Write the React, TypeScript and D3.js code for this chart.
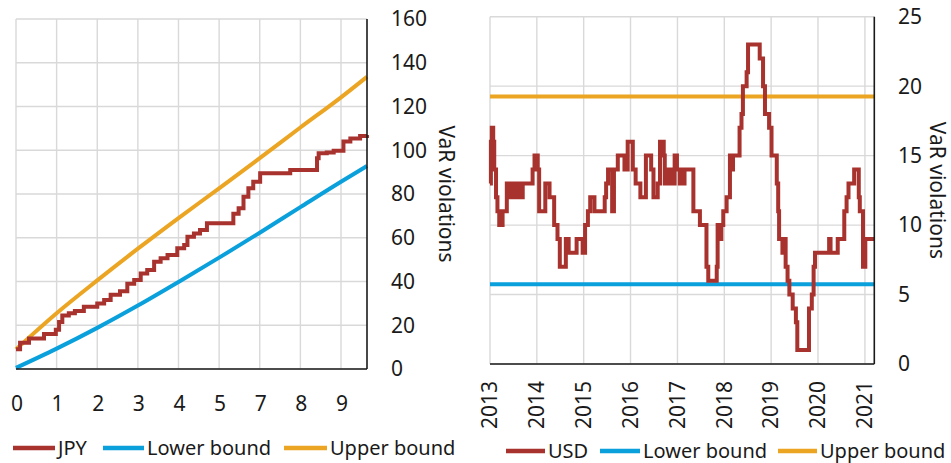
import { useEffect, useRef } from 'react';
import * as d3 from 'd3';

const RED = '#A8322D';
const BLUE = '#0AA0DC';
const ORANGE = '#EBA522';
const GRID = '#D9D9D9';
const AXIS = '#1a1a1a';
const FONT = '"Noto Sans", "Open Sans", sans-serif';

// ---- left panel (JPY) ----
const jpyTickLabels = ['0', '1', '2', '3', '4', '5', '7', '8', '9'];
const jpyYTicks = [0, 20, 40, 60, 80, 100, 120, 140, 160];
const jpyBoundPos = [0, 1, 2, 3, 4, 5, 6, 7, 8, 8.64];
const jpyUpper = [9, 25.5, 40.5, 55, 69, 82.6, 96.4, 110.4, 124.2, 133.6];
const jpyLower = [0.5, 9.3, 18.8, 29, 39.8, 50.9, 62.3, 74, 85.6, 92.8];
const jpySeries: [number, number][] = [
  [0, 9], [0.1, 12], [0.32, 14], [0.69, 16], [0.98, 18], [1.06, 21.5], [1.14, 24.5],
  [1.3, 25.5], [1.45, 26.5], [1.67, 28.5], [2.0, 30], [2.17, 31.5], [2.33, 34],
  [2.56, 35.5], [2.74, 39], [2.91, 40.7], [3.07, 43.7], [3.23, 45.3], [3.4, 49],
  [3.56, 50.6], [3.73, 52.1], [3.97, 55.2], [4.14, 56.7], [4.22, 60.5], [4.38, 62],
  [4.53, 63.5], [4.7, 66.6], [5.35, 71], [5.48, 73.5], [5.6, 78.8], [5.72, 82.6],
  [5.84, 85.6], [6.01, 89.5], [6.75, 91], [7.41, 96.3], [7.45, 98.6], [7.65, 99],
  [7.82, 99.8], [8.06, 104], [8.23, 105.4], [8.47, 106.5], [8.64, 107],
];

// ---- right panel (USD) ----
const usdYears = [2013, 2014, 2015, 2016, 2017, 2018, 2019, 2020, 2021];
const usdYTicks = [0, 5, 10, 15, 20, 25];
const usdBoundDates = ['2013-01-01', '2021-03-15'];
const usdUpper = [19.26, 19.26];
const usdLower = [5.74, 5.74];
const usdSeries: [string, number][] = [
  ['2013-01-01', 13], ['2013-01-08', 16], ['2013-01-15', 17], ['2013-01-26', 16],
  ['2013-02-03', 14], ['2013-02-17', 12], ['2013-02-28', 11], ['2013-03-14', 10],
  ['2013-04-09', 11], ['2013-05-12', 13], ['2013-06-03', 12], ['2013-06-14', 13],
  ['2013-07-10', 12], ['2013-07-24', 13], ['2013-08-19', 12], ['2013-09-13', 13],
  ['2013-11-29', 14], ['2013-12-14', 15], ['2014-01-08', 14], ['2014-01-19', 11],
  ['2014-03-08', 13], ['2014-04-10', 12], ['2014-05-16', 10], ['2014-06-11', 9],
  ['2014-06-29', 7], ['2014-08-15', 9], ['2014-09-06', 8], ['2014-11-07', 9],
  ['2014-12-24', 8], ['2015-01-12', 10], ['2015-02-03', 11], ['2015-02-21', 12],
  ['2015-03-26', 11], ['2015-06-14', 12], ['2015-06-25', 13], ['2015-07-10', 14],
  ['2015-08-11', 11], ['2015-08-25', 14], ['2015-09-24', 15], ['2015-11-15', 14],
  ['2015-12-10', 16], ['2016-01-19', 14], ['2016-02-10', 13], ['2016-03-18', 12],
  ['2016-04-30', 15], ['2016-06-10', 14], ['2016-06-28', 12], ['2016-07-31', 13],
  ['2016-08-18', 16], ['2016-09-16', 15], ['2016-09-24', 13], ['2016-10-12', 14],
  ['2016-10-20', 13], ['2016-10-31', 14], ['2016-11-14', 13], ['2016-12-10', 15],
  ['2016-12-28', 14], ['2017-01-19', 13], ['2017-01-30', 14], ['2017-02-14', 13],
  ['2017-02-25', 14], ['2017-05-05', 11], ['2017-06-25', 10], ['2017-08-15', 7],
  ['2017-08-29', 6], ['2017-11-03', 7], ['2017-11-10', 10], ['2017-11-28', 9],
  ['2017-12-09', 10], ['2017-12-24', 11], ['2018-01-19', 12], ['2018-02-14', 15],
  ['2018-02-28', 14], ['2018-03-10', 15], ['2018-04-30', 17], ['2018-05-15', 18],
  ['2018-05-26', 20], ['2018-06-24', 21], ['2018-07-05', 23], ['2018-10-04', 22],
  ['2018-10-30', 20], ['2018-11-14', 18], ['2018-12-16', 17], ['2019-01-04', 15],
  ['2019-02-14', 13], ['2019-02-25', 11], ['2019-03-04', 9], ['2019-03-30', 8],
  ['2019-04-13', 9], ['2019-04-24', 7], ['2019-05-09', 6], ['2019-05-23', 5],
  ['2019-06-18', 4], ['2019-07-13', 3], ['2019-07-24', 1], ['2019-10-23', 4],
  ['2019-11-14', 5], ['2019-11-28', 7], ['2019-12-09', 8], ['2020-03-28', 9],
  ['2020-04-08', 8], ['2020-06-03', 9], ['2020-07-24', 11], ['2020-08-11', 12],
  ['2020-08-26', 13], ['2020-10-09', 14], ['2020-11-14', 12], ['2020-11-22', 11],
  ['2020-12-17', 7], ['2021-01-04', 9], ['2021-03-15', 9],
];

const parseDate = d3.timeParse('%Y-%m-%d');

function legend(g, y, items) {
  items.forEach((it) => {
    g.append('line')
      .attr('x1', it.x).attr('x2', it.x + it.w)
      .attr('y1', y).attr('y2', y)
      .attr('stroke', it.color).attr('stroke-width', 4.5);
    g.append('text')
      .attr('x', it.x + it.w + 3).attr('y', y).attr('dy', '0.35em')
      .attr('font-size', 20).attr('fill', '#1a1a1a')
      .text(it.label);
  });
}

export default function App() {
  const svgRef = useRef(null);

  useEffect(() => {
    const svg = d3.select(svgRef.current);
    svg.selectAll('*').remove();
    svg.attr('font-family', FONT);

    // ===== left panel =====
    const L = { left: 16, right: 367, top: 19, bottom: 369 };
    const xL = d3.scaleLinear().domain([0, 8.64]).range([L.left, L.right]);
    const yL = d3.scaleLinear().domain([0, 160]).range([L.bottom, L.top]);
    const gl = svg.append('g');

    gl.selectAll('.hg').data(jpyYTicks).enter().append('line')
      .attr('x1', L.left).attr('x2', L.right)
      .attr('y1', (d) => yL(d)).attr('y2', (d) => yL(d))
      .attr('stroke', GRID).attr('stroke-width', 1.4);
    gl.selectAll('.vg').data(jpyTickLabels).enter().append('line')
      .attr('x1', (d, i) => xL(i)).attr('x2', (d, i) => xL(i))
      .attr('y1', L.top).attr('y2', L.bottom)
      .attr('stroke', GRID).attr('stroke-width', 1.4);

    const smoothL = d3.line().x((d) => xL(d[0])).y((d) => yL(d[1])).curve(d3.curveMonotoneX);
    gl.append('path').datum(jpyBoundPos.map((p, i) => [p, jpyLower[i]]))
      .attr('d', smoothL).attr('fill', 'none').attr('stroke', BLUE).attr('stroke-width', 4);
    gl.append('path').datum(jpyBoundPos.map((p, i) => [p, jpyUpper[i]]))
      .attr('d', smoothL).attr('fill', 'none').attr('stroke', ORANGE).attr('stroke-width', 4);
    const stepL = d3.line().x((d) => xL(d[0])).y((d) => yL(d[1])).curve(d3.curveStepAfter);
    gl.append('path').datum(jpySeries)
      .attr('d', stepL).attr('fill', 'none')
      .attr('stroke', RED).attr('stroke-width', 4);

    gl.append('line').attr('x1', L.left).attr('x2', L.right)
      .attr('y1', L.bottom).attr('y2', L.bottom).attr('stroke', AXIS).attr('stroke-width', 1.6);
    gl.append('line').attr('x1', L.right).attr('x2', L.right)
      .attr('y1', L.top).attr('y2', L.bottom).attr('stroke', AXIS).attr('stroke-width', 1.6);

    gl.selectAll('.yt').data(jpyYTicks).enter().append('text')
      .attr('x', 391).attr('y', (d) => yL(d)).attr('dy', '0.35em')
      .attr('font-size', 21).attr('fill', '#1a1a1a').text((d) => d);
    gl.selectAll('.xt').data(jpyTickLabels).enter().append('text')
      .attr('x', (d, i) => xL(i) + 1).attr('y', 411).attr('text-anchor', 'middle')
      .attr('font-size', 21).attr('fill', '#1a1a1a').text((d) => d);
    gl.append('text')
      .attr('transform', `translate(446,${(L.top + L.bottom) / 2}) rotate(90)`)
      .attr('text-anchor', 'middle').attr('dy', '0.35em')
      .attr('font-size', 21).attr('fill', '#1a1a1a').text('VaR violations');

    legend(gl, 448, [
      { x: 13, w: 42, color: RED, label: 'JPY' },
      { x: 103, w: 41, color: BLUE, label: 'Lower bound' },
      { x: 284, w: 43, color: ORANGE, label: 'Upper bound' },
    ]);

    // ===== right panel =====
    const R = { left: 490, right: 874.3, top: 16.7, bottom: 364 };
    const xR = d3.scaleTime()
      .domain([parseDate(usdBoundDates[0]), parseDate(usdBoundDates[1])])
      .range([R.left, R.right]);
    const yR = d3.scaleLinear().domain([0, 25]).range([R.bottom, R.top]);
    const gr = svg.append('g');
    const yearDate = (y) => new Date(y, 0, 1);

    gr.selectAll('.hg').data(usdYTicks).enter().append('line')
      .attr('x1', R.left).attr('x2', R.right)
      .attr('y1', (d) => yR(d)).attr('y2', (d) => yR(d))
      .attr('stroke', GRID).attr('stroke-width', 1.4);
    gr.selectAll('.vg').data(usdYears).enter().append('line')
      .attr('x1', (d) => xR(yearDate(d))).attr('x2', (d) => xR(yearDate(d)))
      .attr('y1', R.top).attr('y2', R.bottom)
      .attr('stroke', GRID).attr('stroke-width', 1.4);

    const lineR = d3.line().x((d) => xR(parseDate(d[0]))).y((d) => yR(d[1]));
    gr.append('path').datum(usdBoundDates.map((d, i) => [d, usdLower[i]]))
      .attr('d', lineR).attr('fill', 'none').attr('stroke', BLUE).attr('stroke-width', 4);
    gr.append('path').datum(usdBoundDates.map((d, i) => [d, usdUpper[i]]))
      .attr('d', lineR).attr('fill', 'none').attr('stroke', ORANGE).attr('stroke-width', 4);
    gr.append('path').datum(usdSeries)
      .attr('d', lineR.curve(d3.curveStepAfter)).attr('fill', 'none')
      .attr('stroke', RED).attr('stroke-width', 4);

    gr.append('line').attr('x1', R.left).attr('x2', R.right)
      .attr('y1', R.bottom).attr('y2', R.bottom).attr('stroke', AXIS).attr('stroke-width', 1.6);
    gr.append('line').attr('x1', R.right).attr('x2', R.right)
      .attr('y1', R.top).attr('y2', R.bottom).attr('stroke', AXIS).attr('stroke-width', 1.6);

    gr.selectAll('.yt').data(usdYTicks).enter().append('text')
      .attr('x', 898).attr('y', (d) => yR(d)).attr('dy', '0.35em')
      .attr('font-size', 21).attr('fill', '#1a1a1a').text((d) => d);
    gr.selectAll('.xt').data(usdYears).enter().append('text')
      .attr('transform', (d) => `translate(${xR(yearDate(d))},381) rotate(-90)`)
      .attr('text-anchor', 'end').attr('dy', '0.35em')
      .attr('font-size', 21).attr('fill', '#1a1a1a').text((d) => d);
    gr.append('text')
      .attr('transform', `translate(937,${(R.top + R.bottom) / 2}) rotate(90)`)
      .attr('text-anchor', 'middle').attr('dy', '0.35em')
      .attr('font-size', 21).attr('fill', '#1a1a1a').text('VaR violations');

    legend(gr, 451, [
      { x: 506, w: 39, color: RED, label: 'USD' },
      { x: 600, w: 40, color: BLUE, label: 'Lower bound' },
      { x: 778, w: 39, color: ORANGE, label: 'Upper bound' },
    ]);
  }, []);

  return (
    <svg
      ref={svgRef}
      width={951}
      height={463}
      style={{ position: 'absolute', left: 0, top: 0, background: '#fff' }}
    />
  );
}
